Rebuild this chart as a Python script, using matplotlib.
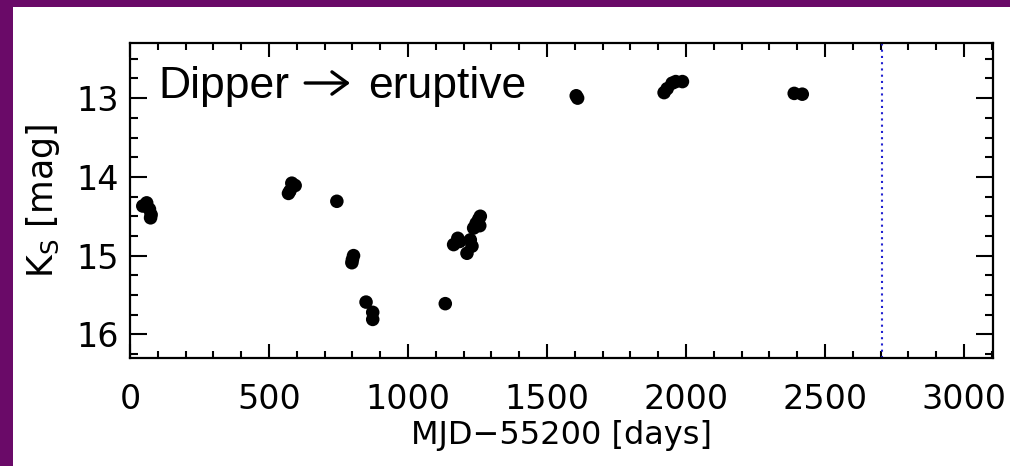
import matplotlib
matplotlib.use("Agg")
import matplotlib.pyplot as plt
from matplotlib.patches import Rectangle
from matplotlib.ticker import MultipleLocator

# MJD - 55200 [days]
days = [46, 60, 70, 74, 76,
        570, 575, 582, 594,
        744,
        798, 800, 804,
        849, 873, 873,
        1134,
        1164, 1179, 1186, 1212, 1224, 1230, 1236, 1245, 1254, 1258, 1260,
        1605, 1610,
        1921, 1932, 1950, 1963, 1987,
        2389, 2418]
# Ks magnitude
ks = [14.37, 14.33, 14.41, 14.52, 14.48,
      14.21, 14.18, 14.08, 14.11,
      14.31,
      15.09, 15.05, 15.00,
      15.59, 15.72, 15.81,
      15.61,
      14.86, 14.78, 14.82, 14.97, 14.80, 14.88, 14.65, 14.59, 14.54, 14.62, 14.50,
      12.97, 13.00,
      12.93, 12.88, 12.81, 12.79, 12.79,
      12.94, 12.95]
marker_day = 2705

W, H = 1010, 466
fig = plt.figure(figsize=(W / 100, H / 100), dpi=100)
fig.patch.set_facecolor("#6a0a68")
# white slide area, purple frame only on top and left
fig.patches.append(Rectangle((13 / W, 0), 1, 1 - 7 / H, transform=fig.transFigure,
                             facecolor="white", edgecolor="none", zorder=-10))

ax = fig.add_axes([130 / W, 1 - 358 / H, 863 / W, 315 / H])
ax.set_facecolor("white")

ax.scatter(days, ks, s=95, color="black", edgecolors="none", zorder=3)
ax.axvline(marker_day, color="#2020d0", linestyle=(0, (1, 2)), linewidth=1.5)

ax.set_xlim(0, 3104)
ax.set_ylim(16.3, 12.3)
ax.xaxis.set_major_locator(MultipleLocator(500))
ax.xaxis.set_minor_locator(MultipleLocator(100))
ax.yaxis.set_major_locator(MultipleLocator(1))
ax.yaxis.set_minor_locator(MultipleLocator(0.25))

ax.tick_params(which="both", direction="in", top=True, right=True, width=1.5,
               labelsize=24, colors="black")
ax.tick_params(axis="y", which="major", length=12, pad=8)
ax.tick_params(axis="y", which="minor", length=6)
ax.tick_params(axis="x", which="major", length=10, pad=18)
ax.tick_params(axis="x", which="minor", length=5)
for sp in ax.spines.values():
    sp.set_linewidth(1.6)

ax.set_xlabel("MJD\u221255200 [days]", fontsize=23, labelpad=3)
ax.set_ylabel("K$_\\mathregular{S}$ [mag]", fontsize=25, labelpad=10)

# "Dipper -> eruptive" label, arrow drawn as a line with open head
txt_font = ["Liberation Sans", "DejaVu Sans"]
ax.text(0.0324, 0.825, "Dipper", transform=ax.transAxes, fontsize=32,
        family=txt_font, va="baseline", ha="left")
ax.text(0.2765, 0.825, "eruptive", transform=ax.transAxes, fontsize=32,
        family=txt_font, va="baseline", ha="left")
ax.annotate("", xy=(0.2550, 0.873), xytext=(0.2030, 0.873),
            xycoords="axes fraction", textcoords="axes fraction",
            arrowprops=dict(arrowstyle="->,head_length=0.55,head_width=0.4",
                            lw=2.4, color="black", shrinkA=0, shrinkB=0,
                            mutation_scale=20))

fig.savefig("out.png", dpi=100, facecolor=fig.get_facecolor())
